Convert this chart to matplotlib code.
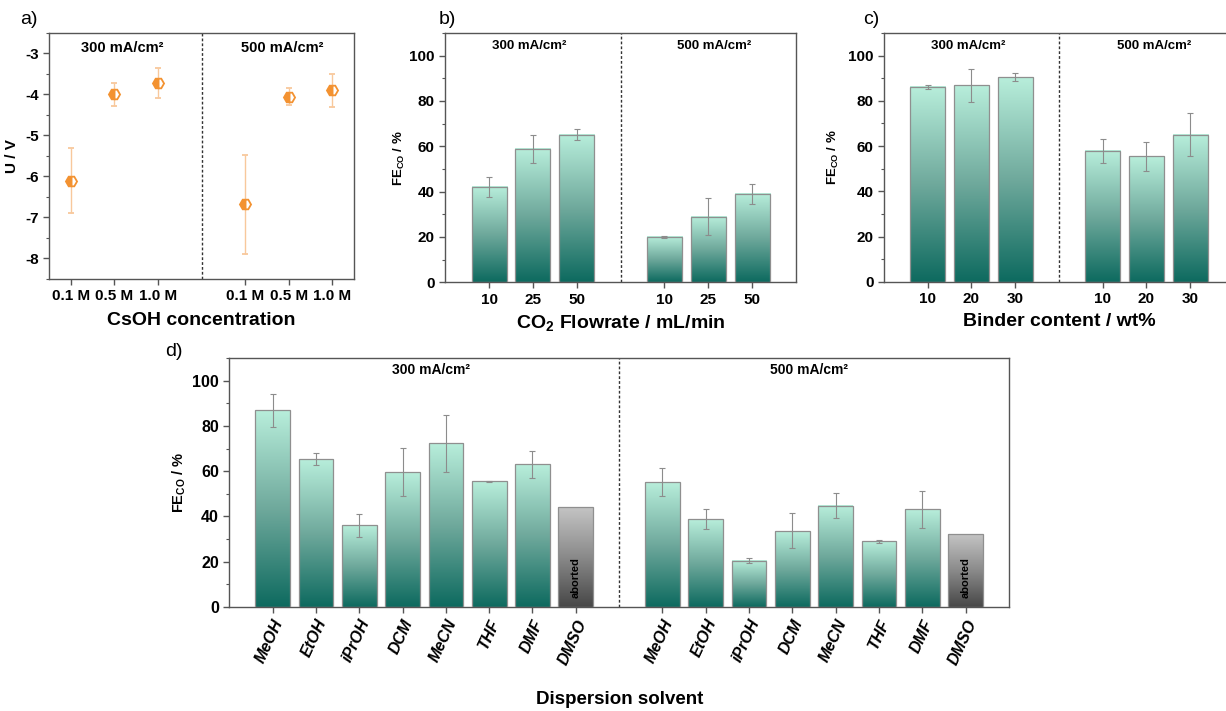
import numpy as np
import matplotlib.pyplot as plt
from matplotlib.colors import LinearSegmentedColormap

plt.rcParams['font.family'] = ['Liberation Sans', 'DejaVu Sans']
plt.rcParams['font.weight'] = 'bold'
plt.rcParams['axes.labelweight'] = 'bold'
plt.rcParams['mathtext.fontset'] = 'custom'
plt.rcParams['mathtext.rm'] = 'Liberation Sans:bold'
plt.rcParams['mathtext.bf'] = 'Liberation Sans:bold'
plt.rcParams['axes.edgecolor'] = '#555555'
plt.rcParams['axes.linewidth'] = 1.0
plt.rcParams['xtick.color'] = '#555555'
plt.rcParams['ytick.color'] = '#555555'
plt.rcParams['xtick.labelcolor'] = 'black'
plt.rcParams['ytick.labelcolor'] = 'black'

# ---- data ----
# a) cell voltage vs CsOH concentration
conc_labels = ['0.1 M', '0.5 M', '1.0 M']
u_300 = [-6.10, -4.00, -3.72]
u_300_err = [0.80, 0.28, 0.37]
u_500 = [-6.68, -4.05, -3.90]
u_500_err = [1.20, 0.20, 0.40]

# b) FE_CO vs CO2 flowrate
flow_labels = ['10', '25', '50']
flow_300 = [42.0, 58.7, 65.2]
flow_300_err = [4.5, 6.2, 2.5]
flow_500 = [20.0, 29.0, 39.0]
flow_500_err = [0.4, 8.0, 4.5]

# c) FE_CO vs binder content
binder_labels = ['10', '20', '30']
binder_300 = [86.2, 86.8, 90.5]
binder_300_err = [1.0, 7.3, 1.6]
binder_500 = [58.0, 55.5, 65.0]
binder_500_err = [5.3, 6.4, 9.5]

# d) FE_CO vs dispersion solvent (DMSO aborted)
solvents = ['MeOH', 'EtOH', 'iPrOH', 'DCM', 'MeCN', 'THF', 'DMF', 'DMSO']
solv_300 = [87.0, 65.3, 36.0, 59.7, 72.3, 55.6, 63.0, 44.0]
solv_300_err = [7.3, 2.7, 5.0, 10.7, 12.8, 0.2, 6.0, 0.0]
solv_500 = [55.3, 38.8, 20.4, 33.6, 44.8, 28.9, 43.1, 32.2]
solv_500_err = [6.3, 4.6, 1.1, 7.8, 5.5, 0.7, 8.3, 0.0]

teal = LinearSegmentedColormap.from_list('teal', [(0, '#0d6a5f'), (0.5, '#6fa99c'), (1, '#b8eedb')])
greys = LinearSegmentedColormap.from_list('greys', ['#474747', '#8a8a8a', '#c4c4c4'])
orange = '#f39231'

grad = np.linspace(0, 1, 256).reshape(-1, 1)


def grad_bars(ax, x, h, cmaps):
    bars = ax.bar(x, h, width=0.8, facecolor='none', edgecolor='#8f8f8f', linewidth=0.9, zorder=3)
    for b, cm in zip(bars, cmaps):
        x0 = b.get_x()
        ax.imshow(grad, extent=[x0, x0 + b.get_width(), 0, b.get_height()], origin='lower',
                  aspect='auto', cmap=cm, zorder=2, interpolation='bilinear')
    return bars


def errs(ax, x, h, e):
    ax.errorbar(x, h, yerr=e, fmt='none', ecolor='#8c8c8c', elinewidth=0.8, capsize=2,
                capthick=0.8, zorder=4)


def style(ax, ysize):
    ax.tick_params(axis='both', direction='out', length=4, width=1)
    ax.tick_params(axis='y', which='minor', direction='out', length=2.5, width=0.8)
    ax.tick_params(axis='y', labelsize=ysize)


fig = plt.figure(figsize=(12.26, 7.11), dpi=100)

# ---- a) ----
ax = fig.add_axes([0.040, 0.6076, 0.2488, 0.346])
xa1 = np.arange(1, 4)
xa2 = np.arange(5, 8)
for xx, yy, ee in [(xa1, u_300, u_300_err), (xa2, u_500, u_500_err)]:
    ax.errorbar(xx, yy, yerr=ee, fmt='H', ms=8, color=orange, mec=orange, mfc=orange,
                fillstyle='left', mew=1.3, ecolor='#f8c89c', elinewidth=1.0, capsize=2.5,
                capthick=1.0, zorder=3)
ax.axvline(4, color='#333333', linestyle=(0, (2, 1.5)), linewidth=1.0)
ax.set_xlim(0.5, 7.5)
ax.set_ylim(-8.5, -2.5)
ax.set_yticks([-8, -7, -6, -5, -4, -3])
ax.set_yticks(np.arange(-8.5, -2.4, 0.5), minor=True)
ax.set_yticklabels(['-8', '-7', '-6', '-5', '-4', '-3'])
ax.set_xticks(list(xa1) + list(xa2))
ax.set_xticklabels(conc_labels + conc_labels, fontsize=11)
style(ax, 11)
ax.set_ylabel('U / V', fontsize=11, labelpad=4)
ax.set_xlabel('CsOH concentration', fontsize=14, labelpad=6)
ax.text(0.24, 0.94, '300 mA/cm²', transform=ax.transAxes, ha='center', va='center', fontsize=10.5)
ax.text(0.766, 0.94, '500 mA/cm²', transform=ax.transAxes, ha='center', va='center', fontsize=10.5)
fig.text(20 / 1226, 1 - 20 / 711, 'a)', fontsize=14, fontweight='normal', va='center')

# ---- b) and c) ----
panels = [
    ([0.3632, 0.603, 0.286, 0.3506], flow_labels, flow_300, flow_300_err, flow_500, flow_500_err,
     'CO$_\\mathbf{2}$ Flowrate / mL/min', 'b)', 439, 0.238, 0.767, 2),
    ([0.721, 0.6034, 0.2855, 0.3503], binder_labels, binder_300, binder_300_err, binder_500,
     binder_500_err, 'Binder content / wt%', 'c)', 863, 0.242, 0.771, 5),
]
for pos, labs, v3, e3, v5, e5, xlab, tag, tagx, t3, t5, lp in panels:
    ax = fig.add_axes(pos)
    x1 = np.arange(1, 4)
    x2 = np.arange(5, 8)
    grad_bars(ax, x1, v3, [teal] * 3)
    grad_bars(ax, x2, v5, [teal] * 3)
    errs(ax, x1, v3, e3)
    errs(ax, x2, v5, e5)
    ax.axvline(4, color='#333333', linestyle=(0, (2, 1.5)), linewidth=1.0)
    ax.set_xlim(0, 8)
    ax.set_ylim(0, 110)
    ax.set_yticks(range(0, 101, 20))
    ax.set_yticks(range(0, 111, 10), minor=True)
    ax.set_xticks(list(x1) + list(x2))
    ax.set_xticklabels(labs + labs, fontsize=11)
    style(ax, 11)
    ax.set_ylabel('FE$_\\mathbf{CO}$ / %', fontsize=9.5, labelpad=lp)
    ax.set_xlabel(xlab, fontsize=14, labelpad=5)
    ax.text(t3, 0.949, '300 mA/cm²', transform=ax.transAxes, ha='center', va='center', fontsize=9.5)
    ax.text(t5, 0.949, '500 mA/cm²', transform=ax.transAxes, ha='center', va='center', fontsize=9.5)
    fig.text(tagx / 1226, 1 - 20 / 711, tag, fontsize=14, fontweight='normal', va='center')

# ---- d) ----
ax = fig.add_axes([0.187, 0.1467, 0.636, 0.3494])
xd1 = np.arange(1, 9)
xd2 = np.arange(10, 18)
cm_list = [teal] * 7 + [greys]
grad_bars(ax, xd1, solv_300, cm_list)
grad_bars(ax, xd2, solv_500, cm_list)
errs(ax, xd1[:7], solv_300[:7], solv_300_err[:7])
errs(ax, xd2[:7], solv_500[:7], solv_500_err[:7])
for xx in [xd1[-1], xd2[-1]]:
    ax.text(xx, 13, 'aborted', rotation=90, ha='center', va='center', fontsize=8, zorder=5)
ax.axvline(9, color='#333333', linestyle=(0, (2, 1.5)), linewidth=1.0)
ax.set_xlim(0, 18)
ax.set_ylim(0, 110)
ax.set_yticks(range(0, 101, 20))
ax.set_yticks(range(0, 111, 10), minor=True)
ax.set_xticks(list(xd1) + list(xd2))
ax.set_xticklabels(solvents + solvents, fontsize=11.5, rotation=65, style='italic',
                   ha='right', rotation_mode='anchor')
style(ax, 11.5)
ax.set_ylabel('FE$_\\mathbf{CO}$ / %', fontsize=10.5, labelpad=3)
ax.text(0.259, 0.953, '300 mA/cm²', transform=ax.transAxes, ha='center', va='center', fontsize=10)
ax.text(0.744, 0.953, '500 mA/cm²', transform=ax.transAxes, ha='center', va='center', fontsize=10)
fig.text(620 / 1226, 1 - 700 / 711, 'Dispersion solvent', fontsize=13.5, ha='center', va='center')
fig.text(165 / 1226, 1 - 352 / 711, 'd)', fontsize=14, fontweight='normal', va='center')

fig.savefig('out.png', dpi=100)
